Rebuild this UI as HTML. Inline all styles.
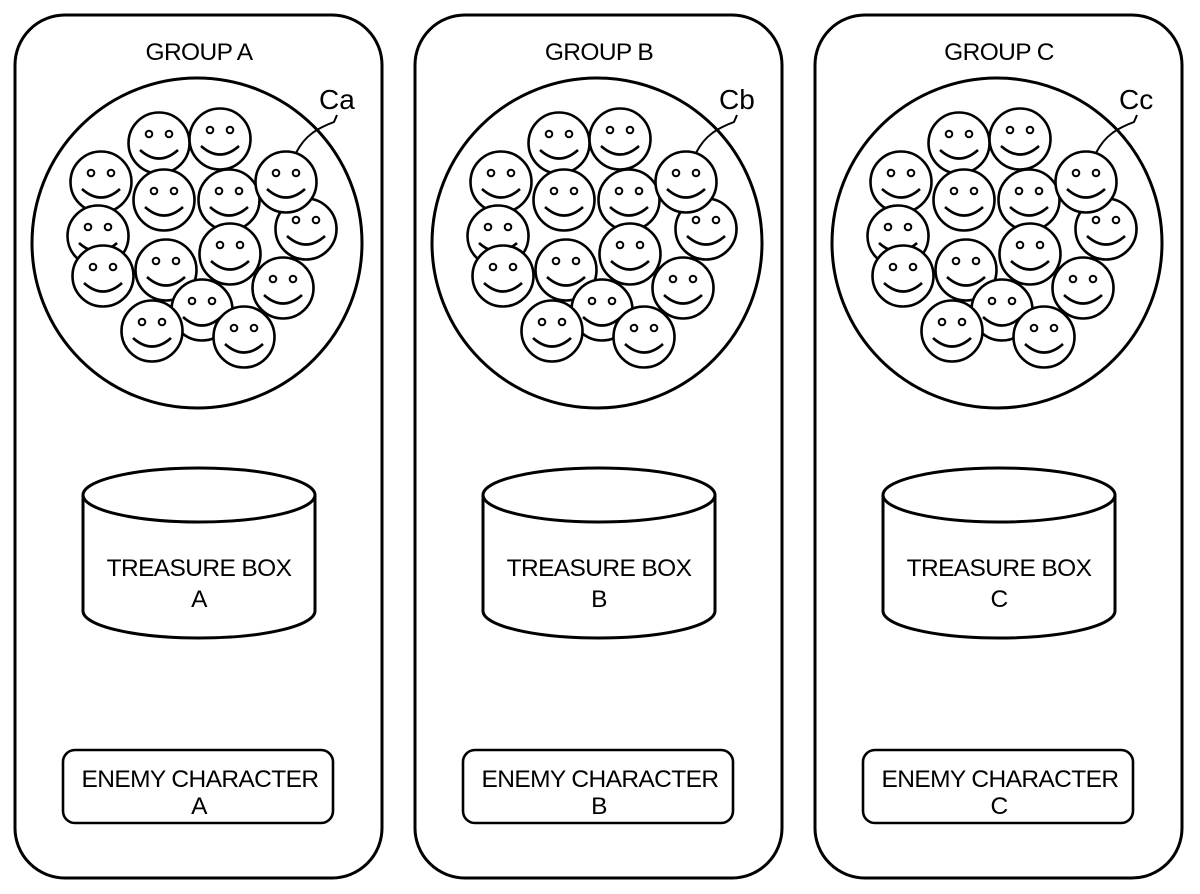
<!DOCTYPE html>
<html><head><meta charset="utf-8"><style>
html,body{margin:0;padding:0;background:#fff;}
svg{display:block;}
text{font-family:"Liberation Sans",sans-serif;fill:#000;}
</style></head><body>
<svg width="1200" height="894" viewBox="0 0 1200 894" xmlns="http://www.w3.org/2000/svg">
<defs>
<g id="f">
<circle r="30.5" fill="#fff" stroke="#000" stroke-width="2.6"/>
<circle cx="-10" cy="-9" r="3.3" fill="none" stroke="#000" stroke-width="2"/>
<circle cx="10" cy="-9" r="3.3" fill="none" stroke="#000" stroke-width="2"/>
<path d="M-19,7 Q0,24 19,7" fill="none" stroke="#000" stroke-width="2.6"/>
</g>
<g id="grp">
<rect x="15" y="15" width="367" height="863" rx="50" fill="#fff" stroke="#000" stroke-width="3"/>
<circle cx="197" cy="243" r="165" fill="#fff" stroke="#000" stroke-width="3"/>
<use href="#f" x="159" y="143"/>
<use href="#f" x="220" y="139"/>
<use href="#f" x="101" y="182"/>
<use href="#f" x="164" y="200"/>
<use href="#f" x="229" y="200"/>
<use href="#f" x="306" y="229"/>
<use href="#f" x="286" y="182"/>
<use href="#f" x="98" y="236"/>
<use href="#f" x="103" y="276"/>
<use href="#f" x="166" y="270"/>
<use href="#f" x="230" y="254"/>
<use href="#f" x="283" y="288"/>
<use href="#f" x="202" y="310"/>
<use href="#f" x="152" y="331"/>
<use href="#f" x="244" y="337"/>
<path d="M296,153 C305,135 318,128 334,122 L337,115" fill="none" stroke="#000" stroke-width="2"/>
<path d="M83,495 L83,611 A116,27 0 0 0 315,611 L315,495" fill="#fff" stroke="#000" stroke-width="3"/>
<ellipse cx="199" cy="495" rx="116" ry="27" fill="#fff" stroke="#000" stroke-width="3"/>
<rect x="63" y="750" width="270" height="73" rx="12" fill="#fff" stroke="#000" stroke-width="2.6"/>
</g>
</defs>
<use href="#grp" x="0" y="0"/>
<use href="#grp" x="400" y="0"/>
<use href="#grp" x="800" y="0"/>
<g font-size="24.5" text-anchor="middle" letter-spacing="-0.6">
<text x="199" y="60">GROUP A</text>
<text x="599" y="60">GROUP B</text>
<text x="999" y="60">GROUP C</text>
<text x="199" y="576">TREASURE BOX</text><text x="199" y="607">A</text>
<text x="599" y="576">TREASURE BOX</text><text x="599" y="607">B</text>
<text x="999" y="576">TREASURE BOX</text><text x="999" y="607">C</text>
<text x="200" y="787">ENEMY CHARACTER</text><text x="199" y="814">A</text>
<text x="600" y="787">ENEMY CHARACTER</text><text x="599" y="814">B</text>
<text x="1000" y="787">ENEMY CHARACTER</text><text x="999" y="814">C</text>
</g>
<g font-size="28">
<text x="319" y="109">Ca</text>
<text x="719" y="109">Cb</text>
<text x="1119" y="109">Cc</text>
</g>
</svg>
</body></html>
